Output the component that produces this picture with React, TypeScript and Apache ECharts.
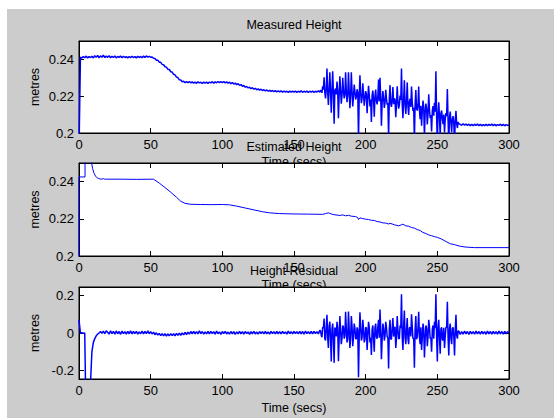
import React, { useEffect, useRef } from 'react';
import * as echarts from 'echarts';

const TITLES = ['Measured Height', 'Estimated Height', 'Height Residual'];
const X_NAME = 'Time (secs)';
const Y_NAME = 'metres';
const X_MIN = 0;
const X_MAX = 300;
const X_STEP = 50;
const SAMPLE_DT = 1; // seconds between samples of MEASURED and RESIDUAL
const HALF_START = 168; // MEASURED_HALF / RESIDUAL_HALF hold samples at t = 168.5 ... 264.5

// Measured height, one sample per second from t = 0 to 300 s
const MEASURED = [
  0.19, 0.2412, 0.2407, 0.2416, 0.2409, 0.2418, 0.2408, 0.2415, 0.2410, 0.2417,
  0.2408, 0.2420, 0.2411, 0.2422, 0.2409, 0.2419, 0.2412, 0.2423, 0.2410, 0.2418,
  0.2411, 0.2420, 0.2409, 0.2417, 0.2410, 0.2419, 0.2408, 0.2416, 0.2411, 0.2418,
  0.2409, 0.2417, 0.2410, 0.2415, 0.2408, 0.2416, 0.2409, 0.2417, 0.2410, 0.2415,
  0.2408, 0.2417, 0.2410, 0.2416, 0.2409, 0.2418, 0.2411, 0.2419, 0.2412, 0.2417,
  0.2412, 0.2413, 0.2406, 0.2405, 0.2396, 0.2395, 0.2385, 0.2384, 0.2373, 0.2371,
  0.2360, 0.2358, 0.2346, 0.2345, 0.2333, 0.2331, 0.2319, 0.2316, 0.2304, 0.2301,
  0.2289, 0.2288, 0.2279, 0.2281, 0.2274, 0.2279, 0.2273, 0.2280, 0.2272, 0.2278,
  0.2271, 0.2277, 0.2270, 0.2278, 0.2272, 0.2276, 0.2269, 0.2277, 0.2271, 0.2276,
  0.2270, 0.2277, 0.2272, 0.2279, 0.2271, 0.2278, 0.2273, 0.2280, 0.2274, 0.2279,
  0.2273, 0.2280, 0.2272, 0.2278, 0.2271, 0.2276, 0.2268, 0.2274, 0.2266, 0.2271,
  0.2263, 0.2268, 0.2259, 0.2263, 0.2254, 0.2258, 0.2249, 0.2253, 0.2245, 0.2249,
  0.2241, 0.2246, 0.2238, 0.2243, 0.2235, 0.2240, 0.2233, 0.2238, 0.2231, 0.2235,
  0.2229, 0.2234, 0.2227, 0.2232, 0.2226, 0.2231, 0.2225, 0.2230, 0.2224, 0.2229,
  0.2223, 0.2229, 0.2222, 0.2228, 0.2223, 0.2227, 0.2221, 0.2228, 0.2222, 0.2227,
  0.2222, 0.2228, 0.2221, 0.2227, 0.2222, 0.2229, 0.2221, 0.2227, 0.2222, 0.2228,
  0.2221, 0.2227, 0.2222, 0.2228, 0.2221, 0.2227, 0.2223, 0.2229, 0.2222, 0.2230,
  0.2254, 0.2303, 0.2188, 0.2350, 0.2152, 0.2330, 0.2110, 0.2335, 0.2050, 0.2241,
  0.2280, 0.2080, 0.2308, 0.2159, 0.2300, 0.2188, 0.2330, 0.2168, 0.2330, 0.2135,
  0.2330, 0.2144, 0.2263, 0.2182, 0.2238, 0.1963, 0.2314, 0.2162, 0.2270, 0.2149,
  0.2228, 0.2107, 0.2256, 0.2144, 0.2060, 0.2230, 0.2088, 0.2236, 0.2155, 0.2290,
  0.2300, 0.2040, 0.2228, 0.2136, 0.2235, 0.2154, 0.1975, 0.2260, 0.2142, 0.2250,
  0.2188, 0.2086, 0.2254, 0.2132, 0.2204, 0.2350, 0.2080, 0.2287, 0.2103, 0.2275,
  0.2098, 0.2186, 0.2253, 0.2120, 0.1962, 0.2234, 0.2122, 0.2253, 0.2075, 0.2040,
  0.2176, 0.1980, 0.2160, 0.2047, 0.2210, 0.2080, 0.2008, 0.2146, 0.2164, 0.2335,
  0.1947, 0.2167, 0.1985, 0.2122, 0.2048, 0.2003, 0.2108, 0.2239, 0.1949, 0.2116,
  0.2004, 0.2092, 0.1941, 0.2120, 0.2027, 0.2050, 0.2047, 0.2042, 0.2050, 0.2043,
  0.2049, 0.2041, 0.2048, 0.2040, 0.2047, 0.2039, 0.2048, 0.2041, 0.2049, 0.2040,
  0.2047, 0.2039, 0.2046, 0.2040, 0.2048, 0.2039, 0.2047, 0.2041, 0.2049, 0.2040,
  0.2047, 0.2039, 0.2046, 0.2041, 0.2048, 0.2040, 0.2047, 0.2039, 0.2046, 0.2041,
  0.2044,
];

// Extra measured samples between the seconds of the noisy stretch (t = 168.5 ... 264.5)
const MEASURED_HALF = [
  0.2232, 0.2218, 0.2236, 0.2220, 0.2240, 0.2221, 0.2242, 0.2220, 0.2238, 0.2215,
  0.2232, 0.2210, 0.2230, 0.2208, 0.2229, 0.2207, 0.2231, 0.2206, 0.2227, 0.2205,
  0.2228, 0.2203, 0.2226, 0.2202, 0.2225, 0.2198, 0.2220, 0.2195, 0.2216, 0.2190,
  0.2214, 0.2188, 0.2211, 0.2185, 0.2208, 0.2182, 0.2205, 0.2178, 0.2200, 0.2175,
  0.2198, 0.2172, 0.2194, 0.2168, 0.2190, 0.2165, 0.2188, 0.2162, 0.2186, 0.2160,
  0.2183, 0.2157, 0.2180, 0.2154, 0.2176, 0.2152, 0.2180, 0.2156, 0.2182, 0.2152,
  0.2175, 0.2146, 0.2170, 0.2142, 0.2165, 0.2137, 0.2158, 0.2131, 0.2154, 0.2125,
  0.2148, 0.2118, 0.2140, 0.2110, 0.2133, 0.2104, 0.2126, 0.2098, 0.2120, 0.2094,
  0.2116, 0.2090, 0.2110, 0.2086, 0.2106, 0.2080, 0.2100, 0.2073, 0.2092, 0.2064,
  0.2082, 0.2058, 0.2076, 0.2052, 0.2072, 0.2050, 0.2060,
];

// Estimated height, read at irregular times (seconds)
const EST_T = [
  0, 0, 4.2, 4.2, 8.0, 8.8, 9.5, 10.5, 11.5, 12.4, 13.5, 14.6, 16, 17, 18, 30, 40, 52,
  56, 60, 64, 68, 71, 74, 78, 85, 92, 100, 105, 110, 116, 122, 128, 133, 140, 150,
  160, 170, 172, 174, 176, 178, 180, 182, 184, 186, 188, 190, 193, 194.5, 195, 196, 198, 200,
  202, 204, 206, 208, 210, 212, 214, 216, 217, 220, 223, 225, 226, 228, 230, 232, 234, 236, 238, 240, 242, 244,
  246, 248, 250, 253, 256, 259, 262, 266, 270, 276, 300,
];
const EST_V = [
  0.19, 0.2425, 0.2425, 0.28, 0.258, 0.25, 0.247, 0.2445, 0.2430, 0.2422, 0.2417, 0.2414, 0.2413, 0.2416, 0.2413, 0.2413, 0.2412, 0.2413,
  0.2392, 0.2368, 0.2343, 0.2316, 0.2294, 0.2283, 0.2278, 0.2277, 0.2276, 0.2277, 0.2275, 0.2268, 0.2258, 0.2248, 0.2238, 0.2232, 0.2228, 0.2226,
  0.2225, 0.2224, 0.2228, 0.2232, 0.2226, 0.2222, 0.2220, 0.2218, 0.2221, 0.2216, 0.2219, 0.2214, 0.2212, 0.2206, 0.2196, 0.2205, 0.2201, 0.2198,
  0.2196, 0.2192, 0.2191, 0.2185, 0.2183, 0.2178, 0.2177, 0.2172, 0.2176, 0.2168, 0.2162, 0.2168, 0.2171, 0.2162, 0.2160, 0.2153, 0.2150, 0.2142, 0.2137, 0.2126, 0.2121, 0.2113,
  0.2109, 0.2104, 0.2100, 0.2091, 0.2078, 0.2066, 0.2061, 0.2052, 0.2048, 0.2045, 0.2045,
];

// Height residual, one sample per second from t = 0 to 300 s
const RESIDUAL = [
  0.07, 0.0, 0.001, -0.001, 0.0, -0.5, -0.45, -0.35, -0.27, -0.10,
  -0.05, -0.03, -0.015, -0.006, 0.0, 0.008, -0.002, 0.010, -0.004, 0.012,
  0.004, -0.006, 0.012, -0.003, 0.009, -0.006, 0.011, -0.004, 0.008, -0.007,
  0.010, -0.003, 0.007, -0.006, 0.009, -0.004, 0.011, -0.005, 0.008, -0.003,
  0.009, -0.006, 0.006, -0.004, 0.010, -0.005, 0.008, -0.003, 0.011, -0.004,
  0.007, -0.005, 0.004, -0.009, 0.001, -0.011, -0.002, -0.014, -0.003, -0.015,
  -0.004, -0.016, -0.005, -0.015, -0.003, -0.014, -0.004, -0.015, -0.002, -0.013,
  -0.001, -0.012, 0.001, -0.010, 0.003, -0.008, 0.005, -0.006, 0.008, -0.004,
  0.009, -0.004, 0.007, -0.005, 0.012, -0.003, 0.008, -0.006, 0.006, -0.004,
  0.008, -0.005, 0.009, -0.003, 0.007, -0.006, 0.010, -0.004, 0.006, -0.007,
  0.008, -0.003, 0.009, -0.005, 0.005, -0.006, 0.008, -0.004, 0.007, -0.007,
  0.006, -0.005, 0.009, -0.004, 0.007, -0.006, 0.008, -0.003, 0.006, -0.007,
  0.007, -0.004, 0.009, -0.005, 0.005, -0.006, 0.008, -0.003, 0.007, -0.005,
  0.008, -0.004, 0.006, -0.006, 0.009, -0.003, 0.007, -0.005, 0.008, -0.004,
  0.007, -0.005, 0.009, -0.003, 0.006, -0.006, 0.010, -0.004, 0.007, -0.005,
  0.008, -0.003, 0.007, -0.005, 0.009, -0.004, 0.008, -0.006, 0.010, -0.003,
  0.007, -0.005, 0.008, -0.004, 0.009, -0.003, 0.007, -0.005, 0.014, -0.012,
  0.03, 0.077, -0.04, 0.097, -0.08, 0.06, -0.152, 0.05, -0.159, 0.02,
  0.06, -0.15, 0.09, -0.06, 0.04, -0.03, 0.113, -0.05, 0.114, -0.08,
  0.09, -0.07, 0.05, -0.03, 0.03, -0.235, 0.11, -0.04, 0.07, -0.05,
  0.03, -0.09, 0.06, -0.05, -0.117, 0.04, -0.10, 0.05, -0.03, 0.07,
  0.125, -0.14, 0.05, -0.04, 0.06, -0.02, -0.189, 0.07, -0.03, 0.08,
  0.02, -0.08, 0.09, -0.03, 0.04, 0.206, -0.09, 0.12, -0.06, 0.08,
  -0.06, 0.03, 0.10, -0.03, -0.185, 0.09, -0.02, 0.113, -0.06, -0.09,
  0.05, -0.13, 0.04, -0.07, 0.07, -0.03, -0.10, 0.04, 0.06, 0.206,
  -0.152, 0.07, -0.11, 0.03, -0.04, -0.08, 0.03, 0.166, -0.12, 0.05,
  -0.06, 0.03, -0.12, 0.097, -0.03, 0.01, -0.008, 0.007, -0.006, 0.010,
  -0.005, 0.008, -0.007, 0.009, -0.004, 0.007, -0.006, 0.010, -0.005, 0.008,
  -0.006, 0.009, -0.004, 0.007, -0.007, 0.010, -0.005, 0.008, -0.006, 0.009,
  -0.004, 0.007, -0.006, 0.010, -0.005, 0.008, -0.006, 0.009, -0.004, 0.007,
  0.002,
];

// Extra residual samples between the seconds of the noisy stretch (t = 168.5 ... 264.5)
const RESIDUAL_HALF = [
  0.012, -0.022, 0.026, -0.031, 0.034, -0.024, 0.037, -0.028, 0.021, -0.036,
  0.029, -0.018, 0.027, -0.033, 0.019, -0.026, 0.032, -0.017, 0.024, -0.031,
  0.022, -0.027, 0.035, -0.019, 0.026, -0.032, 0.018, -0.021, 0.033, -0.024,
  0.021, -0.034, 0.027, -0.018, 0.031, -0.026, 0.019, -0.033, 0.028, -0.022,
  0.034, -0.025, 0.019, -0.031, 0.026, -0.018, 0.032, -0.027, 0.021, -0.035,
  0.028, -0.019, 0.033, -0.026, 0.018, -0.031, 0.027, -0.021, 0.036, -0.024,
  0.019, -0.032, 0.026, -0.018, 0.034, -0.027, 0.021, -0.033, 0.025, -0.019,
  0.031, -0.026, 0.018, -0.034, 0.027, -0.021, 0.033, -0.025, 0.019, -0.031,
  0.026, -0.018, 0.032, -0.027, 0.021, -0.034, 0.028, -0.019, 0.031, -0.025,
  0.022, -0.029, 0.024, -0.018, 0.019, -0.014, 0.010,
];

const FONT = '"Liberation Sans", Arial, Helvetica, sans-serif';
const TICK_FS = 13;
const TEXT_FS = 12.5;
const LINE_COLOR = '#0000ff';

const PLOT_LEFT = 79;
const PLOT_WIDTH = 430;
const PLOTS = [
  { top: 41, height: 92 },
  { top: 163, height: 93 },
  { top: 287, height: 92 },
];

function withHalfSamples(whole: number[], half: number[]): number[][] {
  const out: number[][] = [];
  whole.forEach((v, k) => {
    out.push([k * SAMPLE_DT, v]);
    const h = k - HALF_START;
    if (h >= 0 && h < half.length) out.push([(k + 0.5) * SAMPLE_DT, half[h]]);
  });
  return out;
}

export default function App() {
  const ref = useRef<HTMLDivElement>(null);

  useEffect(() => {
    if (!ref.current) return;
    const chart = echarts.init(ref.current, undefined, { renderer: 'svg' });

    const axisLine = { show: true, onZero: false, lineStyle: { color: '#000', width: 1 } };
    const axisTick = { show: true, inside: true, length: 5, lineStyle: { color: '#000', width: 1 } };
    const label = { color: '#000', fontSize: TICK_FS, fontFamily: FONT };

    const grid = PLOTS.map((p) => ({
      left: PLOT_LEFT,
      width: PLOT_WIDTH,
      top: p.top,
      height: p.height,
      show: true,
      backgroundColor: '#ffffff',
      borderColor: '#000',
      borderWidth: 1,
      containLabel: false,
    }));

    const xAxis: any[] = [];
    const yAxis: any[] = [];
    PLOTS.forEach((_, i) => {
      xAxis.push({
        gridIndex: i, type: 'value', min: X_MIN, max: X_MAX, interval: X_STEP, position: 'bottom',
        axisLine, axisTick, splitLine: { show: false },
        axisLabel: { ...label, margin: 5 },
      });
      xAxis.push({
        gridIndex: i, type: 'value', min: X_MIN, max: X_MAX, interval: X_STEP, position: 'top',
        axisLine, axisTick, splitLine: { show: false }, axisLabel: { show: false },
      });
      const yBase =
        i < 2
          ? { min: 0.2, max: 0.25, interval: 0.02 }
          : { min: -0.245, max: 0.245, splitNumber: 2 };
      yAxis.push({
        gridIndex: i, type: 'value', ...yBase, position: 'left',
        axisLine, axisTick, splitLine: { show: false },
        axisLabel: { ...label, margin: 5, showMinLabel: i < 2, showMaxLabel: false },
      });
      yAxis.push({
        gridIndex: i, type: 'value', ...yBase, position: 'right',
        axisLine, axisTick, splitLine: { show: false }, axisLabel: { show: false },
      });
    });

    const measuredData = withHalfSamples(MEASURED, MEASURED_HALF);
    const estData = EST_T.map((t, k) => [t, EST_V[k]]);
    const residData = withHalfSamples(RESIDUAL, RESIDUAL_HALF);

    const mkSeries = (data: number[][], i: number, w: number) => ({
      type: 'line',
      xAxisIndex: i * 2,
      yAxisIndex: i * 2,
      data,
      showSymbol: false,
      symbol: 'none',
      clip: true,
      lineStyle: { color: LINE_COLOR, width: w },
      itemStyle: { color: LINE_COLOR },
      emphasis: { disabled: true },
      z: 2,
    });

    const texts: any[] = [];
    PLOTS.forEach((p, i) => {
      const cx = PLOT_LEFT + PLOT_WIDTH / 2;
      texts.push({
        type: 'text', x: cx, y: p.top - 16, z: -5, silent: true,
        style: { text: TITLES[i], fill: '#000', fontSize: TEXT_FS, fontFamily: FONT, textAlign: 'center', textVerticalAlign: 'middle' },
      });
      texts.push({
        type: 'text', x: cx, y: p.top + p.height + 29, z: -5, silent: true,
        style: { text: X_NAME, fill: '#000', fontSize: TEXT_FS, fontFamily: FONT, textAlign: 'center', textVerticalAlign: 'middle' },
      });
      texts.push({
        type: 'text', x: 35, y: p.top + p.height / 2, rotation: Math.PI / 2, z: -5, silent: true,
        style: { text: Y_NAME, fill: '#000', fontSize: TEXT_FS, fontFamily: FONT, textAlign: 'center', textVerticalAlign: 'middle' },
      });
    });

    chart.setOption({
      animation: false,
      backgroundColor: '#ffffff',
      grid,
      xAxis,
      yAxis,
      series: [mkSeries(measuredData, 0, 1.5), mkSeries(estData, 1, 1), mkSeries(residData, 2, 1.5)],
      graphic: [
        { type: 'rect', z: -10, silent: true, shape: { x: 7, y: 9, width: 547, height: 409 }, style: { fill: '#cccccc' } },
        ...texts,
      ],
    });

    return () => chart.dispose();
  }, []);

  return (
    <div
      ref={ref}
      style={{ position: 'fixed', left: 0, top: 0, width: 554, height: 418 }}
    />
  );
}
